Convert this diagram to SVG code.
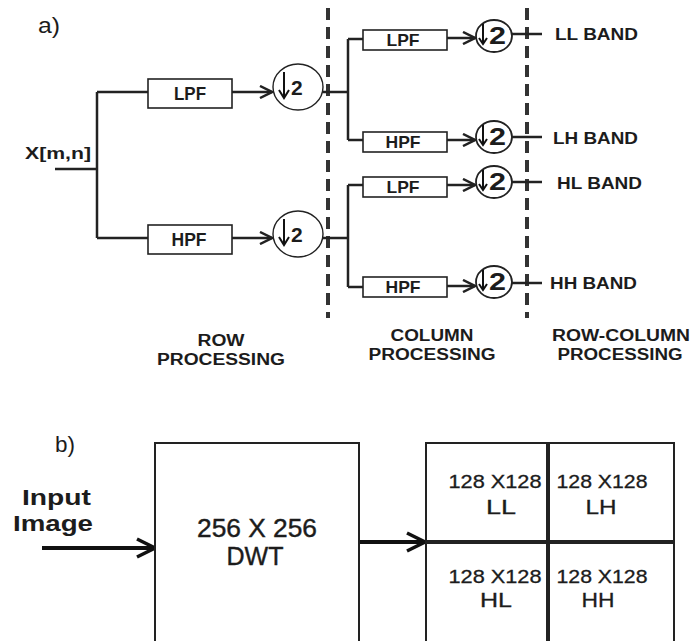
<svg xmlns="http://www.w3.org/2000/svg" width="691" height="641" viewBox="0 0 691 641">
<style>
text{font-family:"Liberation Sans",Arial,sans-serif;fill:#1c1c1c}
.b{font-weight:bold}
.box{fill:#fff;stroke:#222;stroke-width:1.6}
.ln{fill:none;stroke:#222;stroke-width:2.5}
.dash{fill:none;stroke:#333;stroke-width:4;stroke-dasharray:12 7}
.circ{fill:none;stroke:#222;stroke-width:1.4}
.circ2{fill:none;stroke:#222;stroke-width:1.8}
.ft{font-size:18px;font-weight:bold;text-anchor:middle}
.fc{font-size:17px;font-weight:bold;text-anchor:middle}
.band{font-size:17px;font-weight:bold}
.lab{font-size:16px;font-weight:bold;text-anchor:middle}
.dn{fill:none;stroke:#111;stroke-width:2}
.two{font-size:21px;font-weight:bold}
.two2{font-size:23px;font-weight:bold}
</style>
<defs>
<marker id="ah" viewBox="0 0 14 14" refX="13" refY="7" markerWidth="14" markerHeight="14" markerUnits="userSpaceOnUse" orient="auto">
<path d="M1,1 L13,7 L1,13" fill="none" stroke="#222" stroke-width="2.5"/>
</marker>
<marker id="ahb" viewBox="0 0 22 22" refX="20" refY="11" markerWidth="22" markerHeight="22" markerUnits="userSpaceOnUse" orient="auto">
<path d="M2,2 L20,11 L2,20" fill="none" stroke="#111" stroke-width="3.5"/>
</marker>
</defs>
<rect width="691" height="641" fill="#fff"/>

<g id="labels-a">
<text x="38" y="33" font-size="22" textLength="22" lengthAdjust="spacingAndGlyphs">a)</text>
<text x="25" y="159" font-size="16" class="b" textLength="66" lengthAdjust="spacingAndGlyphs">X[m,n]</text>
<text x="221" y="346" class="lab" textLength="47" lengthAdjust="spacingAndGlyphs">ROW</text>
<text x="221" y="365" class="lab" textLength="128" lengthAdjust="spacingAndGlyphs">PROCESSING</text>
<text x="432" y="341" class="lab" textLength="83" lengthAdjust="spacingAndGlyphs">COLUMN</text>
<text x="432" y="360" class="lab" textLength="127" lengthAdjust="spacingAndGlyphs">PROCESSING</text>
<text x="621" y="341" class="lab" textLength="138" lengthAdjust="spacingAndGlyphs">ROW-COLUMN</text>
<text x="620" y="360" class="lab" textLength="125" lengthAdjust="spacingAndGlyphs">PROCESSING</text>
</g>

<g id="dividers">
<line class="dash" x1="328" y1="8" x2="328" y2="318"/>
<line class="dash" x1="527" y1="8" x2="527" y2="318"/>
</g>

<g id="connectors">
<path class="ln" d="M55,169 H97 M97,92 V238 M97,92 H148 M97,238 H148"/>
<line class="ln" x1="232" y1="92" x2="272" y2="92" marker-end="url(#ah)"/>
<line class="ln" x1="232" y1="238" x2="272" y2="238" marker-end="url(#ah)"/>
<path class="ln" d="M323,92 H348 M348,39 V140 M348,39 H363 M348,140 H363"/>
<path class="ln" d="M323,238 H348 M348,185 V287 M348,185 H363 M348,287 H363"/>
<line class="ln" x1="447" y1="38" x2="475" y2="38" marker-end="url(#ah)"/>
<line class="ln" x1="447" y1="140" x2="475" y2="140" marker-end="url(#ah)"/>
<line class="ln" x1="447" y1="185" x2="475" y2="185" marker-end="url(#ah)"/>
<line class="ln" x1="447" y1="286" x2="475" y2="286" marker-end="url(#ah)"/>
<line class="ln" x1="512" y1="34" x2="542" y2="34"/>
<line class="ln" x1="512" y1="137" x2="542" y2="137"/>
<line class="ln" x1="512" y1="182" x2="542" y2="182"/>
<line class="ln" x1="512" y1="283" x2="542" y2="283"/>
<line x1="42" y1="548" x2="155" y2="548" stroke="#111" stroke-width="4" marker-end="url(#ahb)"/>
<line x1="359" y1="542" x2="425" y2="542" stroke="#111" stroke-width="4" marker-end="url(#ahb)"/>
</g>

<g id="row-lpf"><rect class="box" x="148" y="79" width="84" height="29"/><text class="ft" x="190" y="100" textLength="32" lengthAdjust="spacingAndGlyphs">LPF</text></g>
<g id="row-hpf"><rect class="box" x="148" y="225" width="84" height="29"/><text class="ft" x="189" y="246" textLength="35" lengthAdjust="spacingAndGlyphs">HPF</text></g>

<g id="row-down-l"><ellipse class="circ" cx="298" cy="87" rx="25" ry="23"/><path class="dn" d="M284,72 V98 M279,90 L284,98 L289,90"/><text class="two" x="291" y="95">2</text></g>
<g id="row-down-h"><ellipse class="circ" cx="298" cy="234" rx="25" ry="23"/><path class="dn" d="M284,219 V245 M279,237 L284,245 L289,237"/><text class="two" x="291" y="242">2</text></g>

<g id="col-lpf-1"><rect class="box" x="363" y="30" width="84" height="20"/><text class="fc" x="403" y="46" textLength="33" lengthAdjust="spacingAndGlyphs">LPF</text></g>
<g id="col-hpf-1"><rect class="box" x="363" y="132" width="84" height="20"/><text class="fc" x="403" y="148" textLength="35" lengthAdjust="spacingAndGlyphs">HPF</text></g>
<g id="col-lpf-2"><rect class="box" x="363" y="177" width="84" height="20"/><text class="fc" x="403" y="193" textLength="33" lengthAdjust="spacingAndGlyphs">LPF</text></g>
<g id="col-hpf-2"><rect class="box" x="363" y="277" width="84" height="20"/><text class="fc" x="403" y="293" textLength="35" lengthAdjust="spacingAndGlyphs">HPF</text></g>

<g id="col-down-1"><ellipse class="circ2" cx="494" cy="36" rx="18" ry="16"/><path class="dn" d="M483,24 V44 M479,38 L483,44 L487,38"/><text class="two2" x="489" y="44" textLength="17" lengthAdjust="spacingAndGlyphs">2</text></g>
<g id="col-down-2"><ellipse class="circ2" cx="494" cy="137" rx="18" ry="16"/><path class="dn" d="M483,125 V145 M479,139 L483,145 L487,139"/><text class="two2" x="489" y="145" textLength="17" lengthAdjust="spacingAndGlyphs">2</text></g>
<g id="col-down-3"><ellipse class="circ2" cx="494" cy="182" rx="18" ry="16"/><path class="dn" d="M483,170 V190 M479,184 L483,190 L487,184"/><text class="two2" x="489" y="190" textLength="17" lengthAdjust="spacingAndGlyphs">2</text></g>
<g id="col-down-4"><ellipse class="circ2" cx="494" cy="282" rx="18" ry="16"/><path class="dn" d="M483,270 V290 M479,284 L483,290 L487,284"/><text class="two2" x="489" y="290" textLength="17" lengthAdjust="spacingAndGlyphs">2</text></g>

<g id="ll-band"><text class="band" x="555" y="40" textLength="83" lengthAdjust="spacingAndGlyphs">LL BAND</text></g>
<g id="lh-band"><text class="band" x="553" y="144" textLength="85" lengthAdjust="spacingAndGlyphs">LH BAND</text></g>
<g id="hl-band"><text class="band" x="557" y="189" textLength="85" lengthAdjust="spacingAndGlyphs">HL BAND</text></g>
<g id="hh-band"><text class="band" x="550" y="289" textLength="87" lengthAdjust="spacingAndGlyphs">HH BAND</text></g>

<g id="labels-b">
<text x="55" y="452" font-size="22" textLength="20" lengthAdjust="spacingAndGlyphs">b)</text>
<text x="22" y="505" font-size="22" class="b" textLength="69" lengthAdjust="spacingAndGlyphs">Input</text>
<text x="13" y="531" font-size="22" class="b" textLength="80" lengthAdjust="spacingAndGlyphs">Image</text>
</g>

<g id="dwt">
<rect x="155" y="443" width="204" height="220" fill="#fff" stroke="#222" stroke-width="2"/>
<text x="257" y="537" font-size="25" text-anchor="middle" textLength="120" lengthAdjust="spacingAndGlyphs" stroke="#1c1c1c" stroke-width="0.4">256 X 256</text>
<text x="255" y="565" font-size="25" text-anchor="middle" textLength="57" lengthAdjust="spacingAndGlyphs" stroke="#1c1c1c" stroke-width="0.4">DWT</text>
</g>

<g id="subbands">
<rect x="426" y="443" width="248" height="220" fill="#fff" stroke="#222" stroke-width="2"/>
<line x1="548" y1="443" x2="548" y2="663" stroke="#222" stroke-width="4"/>
<line x1="426" y1="542" x2="674" y2="542" stroke="#222" stroke-width="4"/>
<g stroke="#1c1c1c" stroke-width="0.3">
<text x="495" y="488" font-size="18" text-anchor="middle" textLength="93" lengthAdjust="spacingAndGlyphs">128 X128</text>
<text x="501" y="514" font-size="21" text-anchor="middle" textLength="30" lengthAdjust="spacingAndGlyphs">LL</text>
<text x="602" y="488" font-size="18" text-anchor="middle" textLength="91" lengthAdjust="spacingAndGlyphs">128 X128</text>
<text x="601" y="514" font-size="21" text-anchor="middle" textLength="31" lengthAdjust="spacingAndGlyphs">LH</text>
<text x="495" y="583" font-size="18" text-anchor="middle" textLength="93" lengthAdjust="spacingAndGlyphs">128 X128</text>
<text x="496" y="607" font-size="21" text-anchor="middle" textLength="32" lengthAdjust="spacingAndGlyphs">HL</text>
<text x="602" y="583" font-size="18" text-anchor="middle" textLength="91" lengthAdjust="spacingAndGlyphs">128 X128</text>
<text x="598" y="607" font-size="21" text-anchor="middle" textLength="33" lengthAdjust="spacingAndGlyphs">HH</text>
</g>
</g>
</svg>
